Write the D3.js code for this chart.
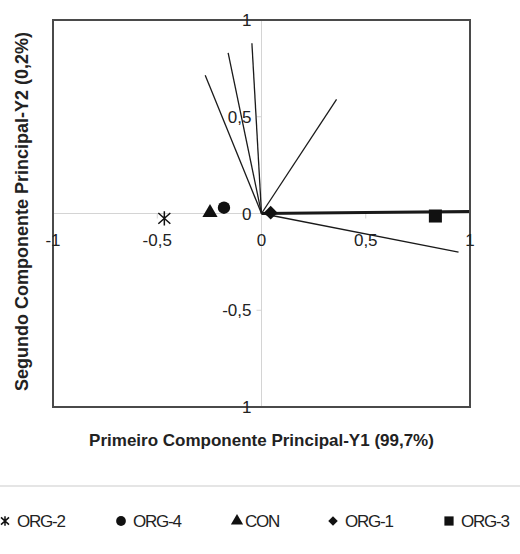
<!DOCTYPE html>
<html>
<head>
<meta charset="utf-8">
<script src="https://d3js.org/d3.v7.min.js"></script>
<style>
  body { margin: 0; background: #fff; font-family: "Liberation Sans", Arial, sans-serif; }
  .tick-label { font-size: 17px; fill: #222; }
  .title { font-weight: bold; fill: #222; }
  .legend text { font-size: 17px; fill: #222; letter-spacing: -1.2px; }
</style>
</head>
<body>
<script>
// loading vectors (Y1, Y2)
var vecX = [-0.27, -0.16, -0.046, 0.36, 0.945, 1.0];
var vecY = [0.715, 0.83, 0.88, 0.59, -0.2, 0.01];
var vecW = [1.3, 1.3, 1.3, 1.3, 1.3, 3];

// treatment scores
var groups = ["ORG-2", "ORG-4", "CON", "ORG-1", "ORG-3"];
var scoreX = [-0.466, -0.18, -0.247, 0.044, 0.834];
var scoreY = [-0.025, 0.03, 0.004, 0.004, -0.013];

var xTicks = [-1, -0.5, 0, 0.5, 1];
var xTickLabels = ["-1", "-0,5", "0", "0,5", "1"];
var yTicks = [1, 0.5, 0, -0.5, -1];
var yTickLabels = ["1", "0,5", "0", "-0,5", "1"];

var W = 520, H = 554;
var svg = d3.select("body").append("svg").attr("width", W).attr("height", H);

var x = d3.scaleLinear().domain([-1, 1]).range([53, 470]);
var y = d3.scaleLinear().domain([-1, 1]).range([407, 20]);

// zero gridlines
svg.append("line").attr("x1", x(0)).attr("x2", x(0)).attr("y1", y(1)).attr("y2", y(-1))
  .attr("stroke", "#d4d4d4").attr("stroke-width", 1);
svg.append("line").attr("x1", x(-1)).attr("x2", x(1)).attr("y1", y(0)).attr("y2", y(0))
  .attr("stroke", "#d4d4d4").attr("stroke-width", 1);

// small tick marks on the zero lines
svg.selectAll(".xt").data(xTicks).enter().append("line")
  .attr("x1", function(d){ return x(d); }).attr("x2", function(d){ return x(d); })
  .attr("y1", y(0)).attr("y2", y(0) + 5)
  .attr("stroke", "#d4d4d4");
svg.selectAll(".yt").data(yTicks).enter().append("line")
  .attr("x1", x(0) - 5).attr("x2", x(0))
  .attr("y1", function(d){ return y(d); }).attr("y2", function(d){ return y(d); })
  .attr("stroke", "#d4d4d4");

// vectors
svg.selectAll(".vec").data(vecX).enter().append("line")
  .attr("x1", x(0)).attr("y1", y(0))
  .attr("x2", function(d){ return x(d); })
  .attr("y2", function(d, i){ return y(vecY[i]); })
  .attr("stroke", "#1a1a1a")
  .attr("stroke-width", function(d, i){ return vecW[i]; });

// frame
svg.append("rect").attr("x", x(-1)).attr("y", y(1))
  .attr("width", x(1) - x(-1)).attr("height", y(-1) - y(1))
  .attr("fill", "none").attr("stroke", "#4a4a4a").attr("stroke-width", 2);

// tick labels
svg.selectAll(".xl").data(xTicks).enter().append("text")
  .attr("class", "tick-label")
  .attr("x", function(d){ return x(d); })
  .attr("y", y(0) + 32)
  .attr("text-anchor", "middle")
  .text(function(d, i){ return xTickLabels[i]; });
svg.selectAll(".yl").data(yTicks).enter().append("text")
  .attr("class", "tick-label")
  .attr("x", x(0) - 10)
  .attr("y", function(d){ return y(d) + 6; })
  .attr("text-anchor", "end")
  .text(function(d, i){ return yTickLabels[i]; });

// symbols: asterisk drawn as an X with a vertical bar, diamond as a rotated square
function asterisk(s) {
  var h = s * 0.6, w = s * 0.5;
  return "M0," + (-h) + "L0," + h +
    "M" + (-w) + "," + (-h * 0.75) + "L" + w + "," + (h * 0.75) +
    "M" + (-w) + "," + (h * 0.75) + "L" + w + "," + (-h * 0.75);
}
function shapePath(i, size) {
  if (i === 0) return asterisk(size);
  var types = [null, d3.symbolCircle, d3.symbolTriangle, d3.symbolSquare, d3.symbolSquare];
  return d3.symbol(types[i], size)();
}
var plotSize = [12, 120, 100, 95, 170];
var legSize = [8, 75, 65, 45, 85];

function placeSymbols(sel, sizes) {
  sel.attr("d", function(d, i){ return shapePath(i, sizes[i]); })
    .attr("fill", function(d, i){ return i === 0 ? "none" : "#111"; })
    .attr("stroke", function(d, i){ return i === 0 ? "#111" : "none"; })
    .attr("stroke-width", 1.5);
}

var pts = svg.selectAll(".pt").data(groups).enter().append("path")
  .attr("transform", function(d, i){
    return "translate(" + x(scoreX[i]) + "," + y(scoreY[i]) + ")" + (i === 3 ? " rotate(45)" : "");
  });
placeSymbols(pts, plotSize);

// axis titles
svg.append("text").attr("class", "title")
  .attr("x", x(0)).attr("y", 446)
  .attr("text-anchor", "middle")
  .style("font-size", "17px")
  .text("Primeiro Componente Principal-Y1 (99,7%)");
svg.append("text").attr("class", "title")
  .attr("transform", "translate(28," + (y(0) - 2) + ") rotate(-90)")
  .attr("text-anchor", "middle")
  .style("font-size", "18px")
  .text("Segundo Componente Principal-Y2 (0,2%)");

// legend
svg.append("line").attr("x1", 0).attr("x2", W).attr("y1", 486).attr("y2", 486)
  .attr("stroke", "#ddd").attr("stroke-width", 1.5);

var legX = [5, 121, 237, 333, 449];
var leg = svg.append("g").attr("class", "legend");
var items = leg.selectAll("g").data(groups).enter().append("g")
  .attr("transform", function(d, i){ return "translate(" + legX[i] + ",521)"; });
var legSym = items.append("path")
  .attr("transform", function(d, i){ return i === 3 ? "rotate(45)" : null; });
placeSymbols(legSym, legSize);
items.append("text")
  .attr("x", function(d, i){ return i === 2 ? 8 : 12; })
  .attr("y", 6)
  .text(function(d){ return d; });
</script>
</body>
</html>
